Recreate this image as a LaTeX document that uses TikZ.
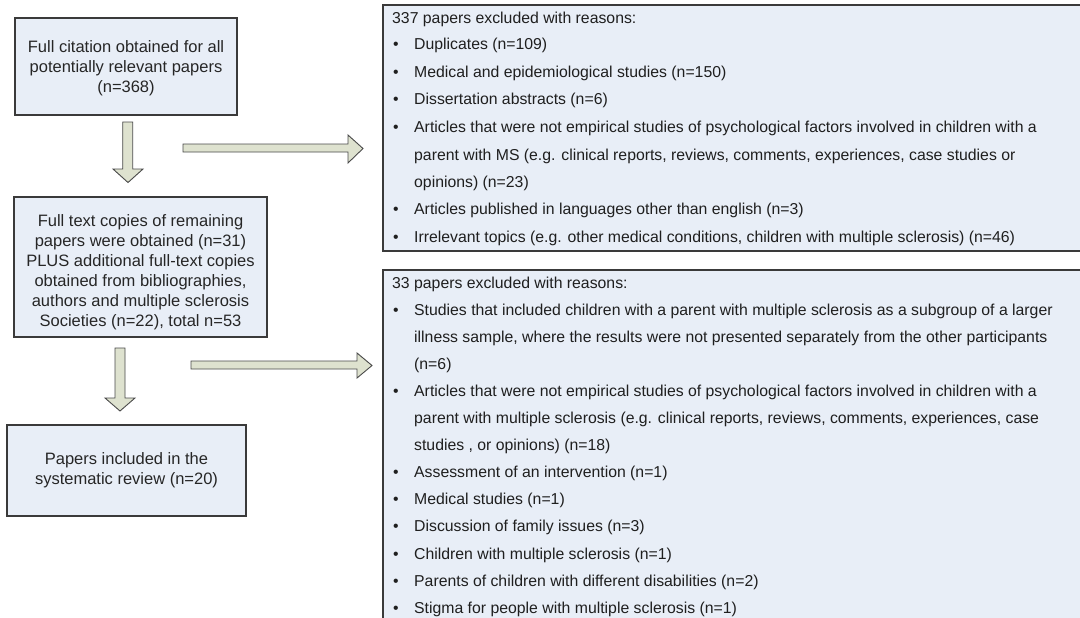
\documentclass[tikz,border=0pt]{standalone}
\usepackage{fontspec}
\setmainfont{Liberation Sans}
\definecolor{boxfill}{HTML}{E8EEF7}
\definecolor{boxline}{HTML}{3A3A3A}
\definecolor{arrfill}{HTML}{DEE2CF}
\definecolor{arrline}{HTML}{4A4A4A}
\begin{document}
\begin{tikzpicture}[x=1pt,y=-1pt,
  flowbox/.style={draw=boxline, fill=boxfill, line width=1.2pt},
  blockarrow/.style={draw=arrline, fill=arrfill, line width=0.9pt, line join=miter},
  lefttext/.style={align=center, font=\fontsize{16.5}{20}\selectfont, inner sep=0pt, text=black!85},
  rtext/.style={anchor=base west, font=\fontsize{15.8}{18}\selectfont, inner sep=0pt, text=black!88},
  bul/.style={anchor=base, font=\fontsize{15.8}{18}\selectfont, inner sep=0pt, text=black!88}]
\useasboundingbox (0,0) rectangle (1080,618);
\fill[white] (0,0) rectangle (1080,618);

% left boxes
\draw[flowbox] (15,18) rectangle (237,115);
\node[lefttext] (boxA) at (126,68) {Full citation obtained for all\\potentially relevant papers\\(n=368)};
\draw[flowbox] (14,197) rectangle (267,337);
\node[lefttext] (boxB) at (140.5,272) {Full text copies of remaining\\papers were obtained (n=31)\\PLUS additional full-text copies\\obtained from bibliographies,\\authors and multiple sclerosis\\Societies (n=22), total n=53};
\draw[flowbox] (7,425) rectangle (246,516);
\node[lefttext] (boxC) at (126.5,470) {Papers included in the\\systematic review (n=20)};

% right boxes
\draw[flowbox] (383,5) rectangle (1090,251);
\draw[flowbox] (383,270) rectangle (1090,640);

% block arrows
\draw[blockarrow] (122.7,122) -- (132.7,122) -- (132.7,169) -- (143,169) -- (128,182.5) -- (113,169) -- (122.7,169) -- cycle;
\draw[blockarrow] (115,348) -- (125,348) -- (125,398) -- (135,398) -- (120,411) -- (105,398) -- (115,398) -- cycle;
\draw[blockarrow] (183,144) -- (348,144) -- (348,135) -- (363,148.5) -- (348,163) -- (348,152) -- (183,152) -- cycle;
\draw[blockarrow] (191,361) -- (357,361) -- (357,353) -- (372,365.5) -- (357,378) -- (357,369) -- (191,369) -- cycle;

% box 1 text
\node[rtext] (h1) at (392,24) {337 papers excluded with reasons:};
\node[bul] (b11) at (396,50) {•};
\node[rtext] (t11) at (414,50) {Duplicates (n=109)};
\node[bul] (b12) at (396,77.5) {•};
\node[rtext] (t12) at (414,77.5) {Medical and epidemiological studies (n=150)};
\node[bul] (b13) at (396,105) {•};
\node[rtext] (t13) at (414,105) {Dissertation abstracts (n=6)};
\node[bul] (b14) at (396,132.5) {•};
\node[rtext] (t14) at (414,132.5) {Articles that were not empirical studies of psychological factors involved in children with a};
\node[rtext] (t15) at (414,160) {parent with MS (e.g. clinical reports, reviews, comments, experiences, case studies or};
\node[rtext] (t16) at (414,187) {opinions) (n=23)};
\node[bul] (b17) at (396,214.5) {•};
\node[rtext] (t17) at (414,214.5) {Articles published in languages other than english (n=3)};
\node[bul] (b18) at (396,242) {•};
\node[rtext] (t18) at (414,242) {Irrelevant topics (e.g. other medical conditions, children with multiple sclerosis) (n=46)};

% box 2 text
\node[rtext] (h2) at (392,288) {33 papers excluded with reasons:};
\node[bul] (b21) at (396,315.1) {•};
\node[rtext] (t21) at (414,315.1) {Studies that included children with a parent with multiple sclerosis as a subgroup of a larger};
\node[rtext] (t22) at (414,342.2) {illness sample, where the results were not presented separately from the other participants};
\node[rtext] (t23) at (414,369.3) {(n=6)};
\node[bul] (b24) at (396,396.4) {•};
\node[rtext] (t24) at (414,396.4) {Articles that were not empirical studies of psychological factors involved in children with a};
\node[rtext] (t25) at (414,423.5) {parent with multiple sclerosis (e.g. clinical reports, reviews, comments, experiences, case};
\node[rtext] (t26) at (414,450.6) {studies , or opinions) (n=18)};
\node[bul] (b27) at (396,477.7) {•};
\node[rtext] (t27) at (414,477.7) {Assessment of an intervention (n=1)};
\node[bul] (b28) at (396,504.8) {•};
\node[rtext] (t28) at (414,504.8) {Medical studies (n=1)};
\node[bul] (b29) at (396,531.9) {•};
\node[rtext] (t29) at (414,531.9) {Discussion of family issues (n=3)};
\node[bul] (b210) at (396,559) {•};
\node[rtext] (t210) at (414,559) {Children with multiple sclerosis (n=1)};
\node[bul] (b211) at (396,586.1) {•};
\node[rtext] (t211) at (414,586.1) {Parents of children with different disabilities (n=2)};
\node[bul] (b212) at (396,613.2) {•};
\node[rtext] (t212) at (414,613.2) {Stigma for people with multiple sclerosis (n=1)};
\end{tikzpicture}
\end{document}
